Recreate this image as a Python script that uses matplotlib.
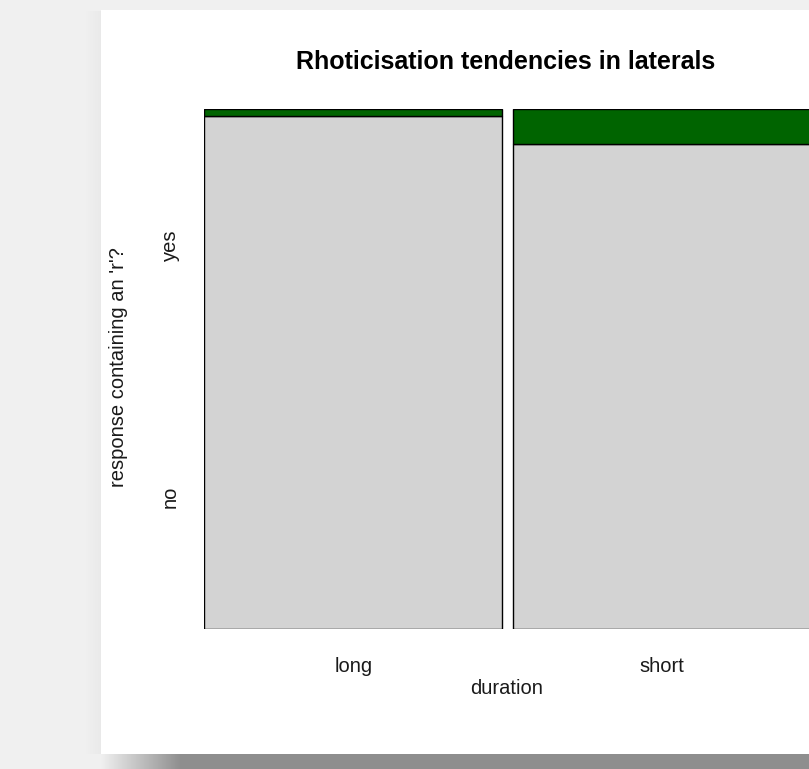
import numpy as np
import matplotlib
matplotlib.use("Agg")
import matplotlib.pyplot as plt
from matplotlib.patches import Rectangle

plt.rcParams["font.family"] = ["Liberation Sans", "DejaVu Sans"]

# Counts of responses by vowel duration
durations = ["long", "short"]
responses = ["no", "yes"]
count_no = [148, 139]
count_yes = [2, 10]

title = "Rhoticisation tendencies in laterals"
xlabel = "duration"
ylabel = "response containing an 'r'?"

W, H = 809, 769
fig = plt.figure(figsize=(W / 100, H / 100), dpi=100)

# ---- page background: grey page, white card with a soft drop shadow ----
bg = fig.add_axes([0, 0, 1, 1], zorder=0)
bg.set_axis_off()
img = np.full((H, W, 3), 0.945)
yy, xx = np.mgrid[0:H, 0:W]
card_l, card_t, card_b = 101, 10, 754
# shadow under the card
shadow = (yy >= card_b)
fade = np.clip((xx - 100) / 80.0, 0, 1)
shade = 0.945 - (0.945 - 0.56) * fade
img[shadow] = np.repeat(shade[shadow][:, None], 3, axis=1)
# faint left-edge shadow
left = (xx < card_l) & (xx > card_l - 18) & (yy > card_t) & (yy < card_b)
lf = (xx - (card_l - 18)) / 18.0
img[left] = np.repeat((0.945 - 0.03 * lf[left])[:, None], 3, axis=1)
# white card
card = (xx >= card_l) & (yy >= card_t) & (yy < card_b)
img[card] = 1.0
bg.imshow(img, extent=[0, W, H, 0], aspect="auto", interpolation="bilinear")
bg.set_xlim(0, W)
bg.set_ylim(H, 0)

# ---- mosaic plot ----
px_l, px_r, px_t, px_b = 204, 810, 109, 629
ax = fig.add_axes([px_l / W, (H - px_b) / H, (px_r - px_l) / W, (px_b - px_t) / H], zorder=2)
ax.set_xlim(0, 1)
ax.set_ylim(0, 1)
ax.set_axis_off()

totals = [n + y for n, y in zip(count_no, count_yes)]
gap = 11 / (px_r - px_l)
avail = 1 - gap * (len(durations) - 1)
x0 = 0.0
centers = []
for i, d in enumerate(durations):
    w = avail * totals[i] / sum(totals)
    p_no = count_no[i] / totals[i]
    ax.add_patch(Rectangle((x0, 0), w, p_no, facecolor="#d3d3d3",
                           edgecolor="black", lw=1.0))
    ax.add_patch(Rectangle((x0, p_no), w, 1 - p_no, facecolor="#006400",
                           edgecolor="black", lw=1.0))
    centers.append(x0 + w / 2)
    x0 += w + gap

tc = "#1a1a1a"
fs = 14.5
for c, d in zip(centers, durations):
    fig.text((px_l + c * (px_r - px_l)) / W, 1 - 666 / H, d, ha="center",
             va="center", fontsize=fs, color=tc)

# response level labels on the left
for lab, ypx in zip(responses, [497, 245]):
    fig.text(170 / W, 1 - ypx / H, lab, rotation=90, ha="center",
             va="center", fontsize=fs, color=tc)

fig.text(506 / W, 1 - 62 / H, title, ha="center", va="center",
         fontsize=18, fontweight="bold", color="black")
fig.text(507 / W, 1 - 689 / H, xlabel, ha="center", va="center",
         fontsize=fs, color=tc)
fig.text(119 / W, 1 - 367 / H, ylabel, rotation=90, ha="center",
         va="center", fontsize=fs, color=tc)

fig.savefig("out.png", dpi=100)
